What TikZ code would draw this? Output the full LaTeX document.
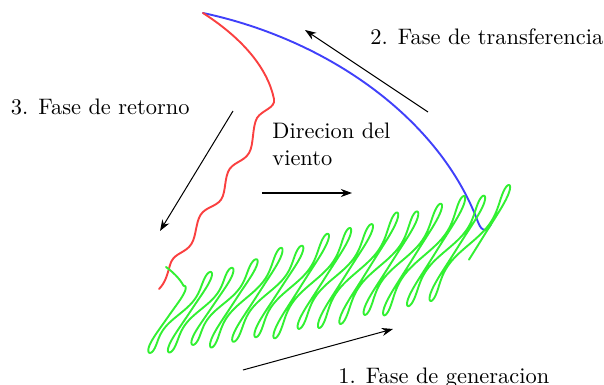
\documentclass[tikz,border=0pt]{standalone}
\usetikzlibrary{arrows.meta}
\definecolor{cblue}{RGB}{64,64,250}
\definecolor{cred}{RGB}{250,64,64}
\definecolor{cgreen}{RGB}{50,240,50}
\begin{document}
\begin{tikzpicture}[x=0.4464pt,y=-0.4464pt,
  lbl/.style={inner sep=0pt, anchor=base west},
  arr/.style={-{Stealth[length=5pt,width=3.6pt]}, line width=0.45pt},
  traj/.style={line width=0.85pt, line join=round, line cap=round},
  declare function={
    hh(\t)=37+0.2324*\t+6*sin(0.03846*\t r)+3*sin(0.3806*\t r);
    bb(\t)=23.5+0.5*(hh(\t)-37);
    vv(\t)=-cos(\t r);
    mm(\t)=(1+sin(\t r))/2;
    gg(\t)=tanh(2*vv(\t))/0.9640;
  }]
\useasboundingbox (0,0) rectangle (604,385);

% labels
\node[lbl] (ltrans) at (370,45) {2. Fase de transferencia};
\node[lbl] (lret) at (10.5,115) {3. Fase de retorno};
\node[lbl] (lgen) at (338,383.5) {1. Fase de generacion};
\node[inner sep=0pt, anchor=north west, align=left] (lwind) at (272,122.5) {Direcion del\\viento};

% arrows
\coordinate (a2s) at (428,112); \coordinate (a2e) at (305,30);
\coordinate (a3s) at (233,111); \coordinate (a3e) at (160,231);
\coordinate (aws) at (262,193); \coordinate (awe) at (352,193);
\coordinate (a1s) at (243,370); \coordinate (a1e) at (393,329);
\draw[arr] (a2s) -- (a2e);
\draw[arr] (a3s) -- (a3e);
\draw[arr] (aws) -- (awe);
\draw[arr] (a1s) -- (a1e);

% transfer (blue)
\coordinate (apex) at (203,13);
\coordinate (bturn) at (478,222);
\coordinate (bend) at (492,222);
\draw[traj, cblue] (apex) .. controls (330,40) and (440,120) .. (bturn)
   .. controls (482,233) and (488,232) .. (bend);

% return (red)
\coordinate (rend) at (159,289);
\draw[traj, cred] (apex) .. controls (245,40) and (268,70) .. (274,99)
  .. controls (276,108) and (262,110) .. (257,118)
  .. controls (252,127) and (254,145) .. (249,153)
  .. controls (244,162) and (232,162) .. (228,172)
  .. controls (224,182) and (226,196) .. (219,202)
  .. controls (212,208) and (203,208) .. (199,218)
  .. controls (195,228) and (196,240) .. (189,247)
  .. controls (182,254) and (173,254) .. (170,265)
  .. controls (167,276) and (165,283) .. (rend);

% generation (green)
\coordinate (gstart) at (166,267);
\draw[traj, cgreen] (gstart) .. controls (173,272) and (180,279) .. (183.6,285.8)
  -- plot[variable=\t, domain=-3.1416:86.71, samples=1800]
  ({173.35+3.55*\t+bb(\t)*(mm(\t)*gg(\t)+(1-mm(\t))*vv(\t))+2.5*sin(2*\t r)},
   {315.9-0.856*\t-hh(\t)*vv(\t)});
\end{tikzpicture}
\end{document}
